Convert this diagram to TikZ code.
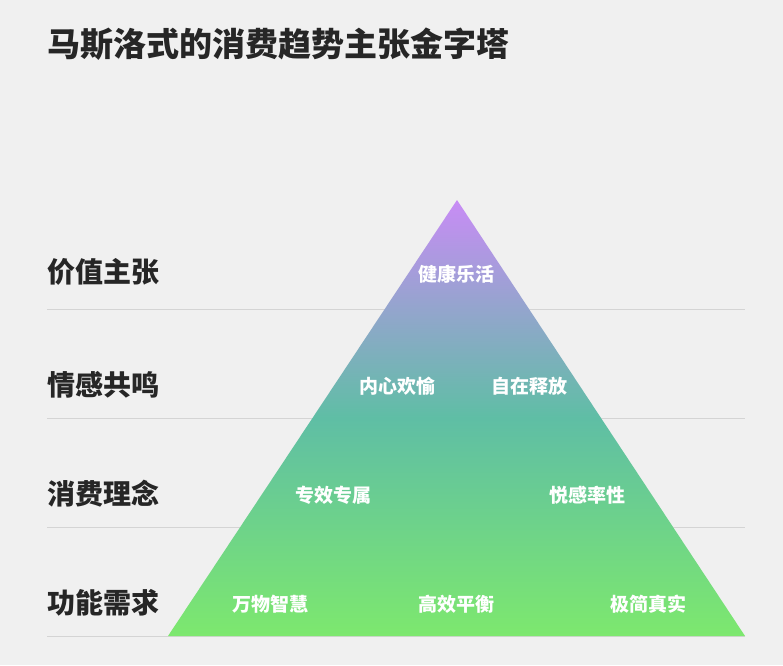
\documentclass[tikz,border=0pt]{standalone}
\usepackage{fontspec}
\setmainfont{Noto Sans CJK SC}
\usetikzlibrary{positioning}
\definecolor{BgColor}{RGB}{240,240,240}
\definecolor{RuleColor}{RGB}{212,212,212}
\definecolor{TopColor}{RGB}{200,140,245}
\definecolor{MidColor}{RGB}{95,190,165}
\definecolor{BotColor}{RGB}{125,232,110}
\tikzset{
  level/.style={anchor=west, font=\fontsize{28}{28}\selectfont\bfseries, text=black!85},
  tag/.style={font=\fontsize{19}{19}\selectfont\bfseries, text=white},
  rule/.style={RuleColor, line width=0.8pt}
}
\begin{document}
\begin{tikzpicture}[x=1pt,y=-1pt]
\fill[BgColor] (0,0) rectangle (783,665);
\useasboundingbox (0,0) rectangle (783,665);
% title
\node[anchor=west, font=\fontsize{33}{33}\selectfont\bfseries, text=black!85] (title) at (44,44) {马斯洛式的消费趋势主张金字塔};
% rules
\foreach \y in {309,418,527,636}
  \draw[rule] (47,\y) -- (745,\y);
% pyramid
\coordinate (apex) at (457,200);
\coordinate (left) at (168,636);
\coordinate (right) at (745,636);
\shade[top color=TopColor, bottom color=BotColor, middle color=MidColor] (apex) -- (left) -- (right) -- cycle;
% levels
\node[level] (value) at (44,272) {价值主张};
\node[level] (emotion) at (44,385) {情感共鸣};
\node[level] (concept) at (44,494) {消费理念};
\node[level] (need) at (44,603) {功能需求};
% tags
\node[tag] (health) at (456,274) {健康乐活};
\node[tag] (joy) at (397,386) {内心欢愉};
\node[tag] (free) at (529,386) {自在释放};
\node[tag] (own) at (333,495) {专效专属};
\node[tag] (sense) at (587,495) {悦感率性};
\node[tag] (smart) at (270,604) {万物智慧};
\node[tag] (balance) at (456,604) {高效平衡};
\node[tag] (simple) at (648,604) {极简真实};
\end{tikzpicture}
\end{document}
